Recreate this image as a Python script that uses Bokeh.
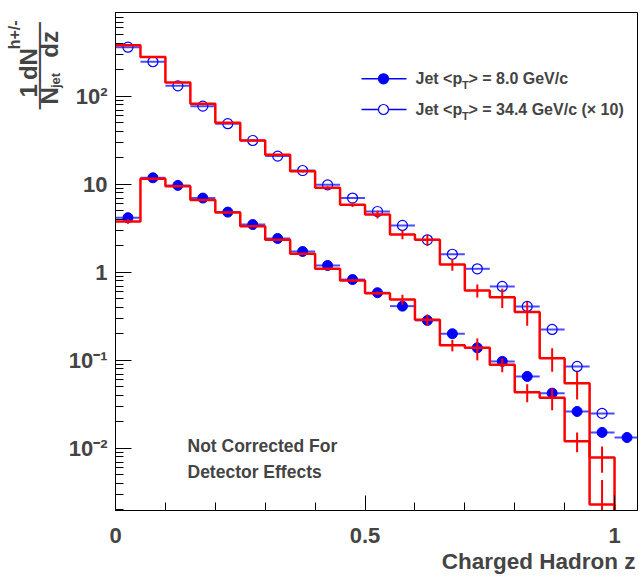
import math
import numpy as np
from bokeh.plotting import figure
from bokeh.layouts import row
from bokeh.models import Range1d, FixedTicker, Label, LinearScale, Title
from bokeh.embed import file_html
from bokeh.resources import INLINE

# ---------------- data ----------------
bin_edges = [0.00, 0.05, 0.10, 0.15, 0.20, 0.25, 0.30, 0.35, 0.40, 0.45, 0.50,
             0.55, 0.60, 0.65, 0.70, 0.75, 0.80, 0.85, 0.90, 0.95, 1.00]

# measured, Jet <pT> = 8.0 GeV/c (filled)
z_low = [0.025, 0.075, 0.125, 0.175, 0.225, 0.275, 0.325, 0.375, 0.425, 0.475, 0.525,
         0.575, 0.625, 0.675, 0.725, 0.775, 0.825, 0.875, 0.925, 0.975, 1.025]
low_data = [4.19, 11.9, 9.75, 7.0, 4.85, 3.5, 2.43, 1.73, 1.2, 0.83, 0.588,
            0.414, 0.285, 0.201, 0.139, 0.0975, 0.0658, 0.0425, 0.0263, 0.0152, 0.0133]

# measured, Jet <pT> = 34.4 GeV/c (x10) (open)
z_high = [0.025, 0.075, 0.125, 0.175, 0.225, 0.275, 0.325, 0.375, 0.425, 0.475,
          0.525, 0.575, 0.625, 0.675, 0.725, 0.775, 0.825, 0.875, 0.925, 0.975]
high_data = [363, 248, 132, 77.6, 49, 31.6, 21, 14.4, 9.9, 7.0,
             4.93, 3.42, 2.35, 1.61, 1.10, 0.693, 0.411, 0.225, 0.0855, 0.025]

# simulation histograms (red), per bin of bin_edges
low_mc = [3.8, 11.6, 9.57, 6.64, 4.81, 3.35, 2.35, 1.63, 1.10, 0.81,
          0.582, 0.493, 0.29, 0.149, 0.139, 0.0894, 0.0436, 0.0377, 0.0121, 0.0079]
low_mc_relerr = [0.06, 0.02, 0.02, 0.02, 0.02, 0.02, 0.02, 0.02, 0.03, 0.03,
                 0.05, 0.13, 0.15, 0.15, 0.28, 0.18, 0.23, 0.28, 0.25, 0.33]
high_mc = [383, 280, 144, 82.6, 50.3, 31.6, 21.8, 14.1, 9.16, 5.88,
           4.56, 2.7, 2.35, 1.23, 0.624, 0.524, 0.354, 0.106, 0.0552, 0.0023]
high_mc_relerr = [0.02, 0.02, 0.02, 0.02, 0.02, 0.02, 0.02, 0.03, 0.04, 0.06,
                  0.10, 0.12, 0.15, 0.15, 0.17, 0.25, 0.30, 0.30, 0.35, 0.9]

x_ticks = [0, 0.5, 1]
x_tick_labels = ["0", "0.5", "1"]
x_minor_ticks = [0.1, 0.2, 0.3, 0.4, 0.6, 0.7, 0.8, 0.9]
y_ticks = [0.01, 0.1, 1, 10, 100]
y_tick_labels = ["10\u207b\u00b2", "10\u207b\u00b9", "1", "10", "10\u00b2"]

FONT = "Liberation Sans"
BLUE = "#0000ff"
RED = "#ff0000"
PAGE_H = 579
TITLE_W = 64

# ---------------- y-title strip ----------------
pt = figure(width=TITLE_W, height=PAGE_H, x_range=Range1d(0, TITLE_W),
            y_range=Range1d(0, PAGE_H), output_backend="svg", toolbar_location=None,
            x_axis_location=None, y_axis_location=None,
            min_border_left=0, min_border_right=0, min_border_top=0, min_border_bottom=0)
pt.outline_line_color = None
pt.xgrid.visible = False
pt.ygrid.visible = False
pt.border_fill_color = "white"

def ylab(txt, px, py, size, font=FONT, style="bold"):
    pt.add_layout(Label(x=px, y=PAGE_H - py, text=txt, angle=math.pi / 2,
                        text_font=font, text_font_style=style, text_font_size=size,
                        text_align="center", text_baseline="middle"))

ylab("1", 28, 91, "24px")
ylab("dN", 28, 60, "24px")
ylab("h+/-", 14, 26, "16px")
ylab("\u2500\u2500\u2500\u2500\u2500\u2500", 39, 62, "24px", font="DejaVu Sans", style="normal")
ylab("N", 49, 97, "24px")
ylab("jet", 55, 79, "13px")
ylab("dz", 49, 37, "24px")

# ---------------- main plot ----------------
p = figure(width=639 - TITLE_W, height=PAGE_H, x_range=Range1d(0, 1.046),
           y_range=Range1d(0.00197, 900), y_axis_type="log",
           output_backend="svg", toolbar_location=None,
           min_border_left=115 - TITLE_W, min_border_right=2, min_border_top=12,
           min_border_bottom=69)
p.background_fill_color = "white"
p.border_fill_color = "white"
p.outline_line_color = "black"
p.outline_line_width = 1
p.xgrid.visible = False
p.ygrid.visible = False

# normalized frame coordinates for the legend samples
p.extra_x_ranges = {"nx": Range1d(0, 1)}
p.extra_y_ranges = {"ny": Range1d(0, 1)}
p.extra_y_scales = {"ny": LinearScale()}

xa = p.xaxis[0]
xa.ticker = FixedTicker(ticks=x_ticks, minor_ticks=x_minor_ticks)
xa.major_label_overrides = {t: l for t, l in zip(x_ticks, x_tick_labels)}
xa.major_tick_in = 15
xa.major_tick_out = 0
xa.minor_tick_in = 8
xa.minor_tick_out = 0
xa.major_label_standoff = 17
xa.major_label_text_font = FONT
xa.major_label_text_font_style = "bold"
xa.major_label_text_font_size = "22px"
xa.axis_line_color = "black"

ya = p.yaxis[0]
y_minor = [m * 10.0 ** e for e in range(-3, 3) for m in range(2, 10)]
ya.ticker = FixedTicker(ticks=y_ticks, minor_ticks=y_minor)
ya.major_label_overrides = {t: l for t, l in zip(y_ticks, y_tick_labels)}
ya.major_tick_in = 16
ya.major_tick_out = 0
ya.minor_tick_in = 8
ya.minor_tick_out = 0
ya.major_label_standoff = 8
ya.major_label_text_font = FONT
ya.major_label_text_font_style = "bold"
ya.major_label_text_font_size = "22px"
ya.axis_line_color = "black"

xt = Title(text="Charged Hadron z", align="right", offset=-1, standoff=0,
           vertical_align="top", padding=3,
           text_font=FONT, text_font_style="bold", text_font_size="22.5px")
p.add_layout(xt, "below")

half = 0.025
zl = np.array(z_low); vl = np.array(low_data)
zh = np.array(z_high); vh = np.array(high_data)
p.segment(x0=zh - half, x1=zh + half, y0=vh, y1=vh, line_color=BLUE, line_width=2, line_alpha=0.7)
p.segment(x0=zl - half, x1=zl + half, y0=vl, y1=vl, line_color=BLUE, line_width=2, line_alpha=0.7)
p.scatter(zl, vl, size=10, marker="circle", fill_color=BLUE, line_color=BLUE)
p.scatter(zh, vh, size=10, marker="circle", fill_color=None, line_color=BLUE, line_width=1.2)

def step_path(edges, vals, floor=1e-4):
    xs, ys = [], []
    for i, v in enumerate(vals):
        xs += [edges[i], edges[i + 1]]
        ys += [v, v]
    xs.append(edges[-1]); ys.append(floor)
    return xs, ys

centers = (np.array(bin_edges[:-1]) + np.array(bin_edges[1:])) / 2
for vals, rel in ((low_mc, low_mc_relerr), (high_mc, high_mc_relerr)):
    xs, ys = step_path(bin_edges, vals)
    p.line(xs, ys, line_color=RED, line_width=2.5)
    v = np.array(vals); r = np.array(rel)
    p.segment(x0=centers, x1=centers, y0=np.maximum(v * (1 - r), 1e-5), y1=v * (1 + r),
              line_color=RED, line_width=2)

# legend (drawn by hand so the subscript can be shown)
leg_rows = [(0.8669, True, "> = 8.0 GeV/c"), (0.8052, False, "> = 34.4 GeV/c (\u00d7 10)")]
for ny, filled, tail in leg_rows:
    p.line([0.4713, 0.5575], [ny, ny], x_range_name="nx", y_range_name="ny",
           line_color=BLUE, line_width=1.5)
    p.scatter([0.5134], [ny], x_range_name="nx", y_range_name="ny", size=10,
              fill_color=BLUE if filled else "white", line_color=BLUE, line_width=1.2)
    sy = ny * 498
    p.add_layout(Label(x=300, y=sy, x_units="screen", y_units="screen", text="Jet <p",
                       text_font=FONT, text_font_style="bold", text_font_size="16px",
                       text_baseline="middle", text_align="left"))
    p.add_layout(Label(x=346.5, y=sy - 6, x_units="screen", y_units="screen", text="T",
                       text_font=FONT, text_font_style="bold", text_font_size="11px",
                       text_baseline="middle", text_align="left"))
    p.add_layout(Label(x=353, y=sy, x_units="screen", y_units="screen", text=tail,
                       text_font=FONT, text_font_style="bold", text_font_size="16px",
                       text_baseline="middle", text_align="left"))

for txt, by in (("Not Corrected For", 65), ("Detector Effects", 39)):
    p.add_layout(Label(x=72, y=by, x_units="screen", y_units="screen", text=txt,
                       text_font=FONT, text_font_style="bold", text_font_size="17.5px",
                       text_baseline="alphabetic", text_align="left"))

open("out.html", "w").write(file_html(row(pt, p), INLINE))
